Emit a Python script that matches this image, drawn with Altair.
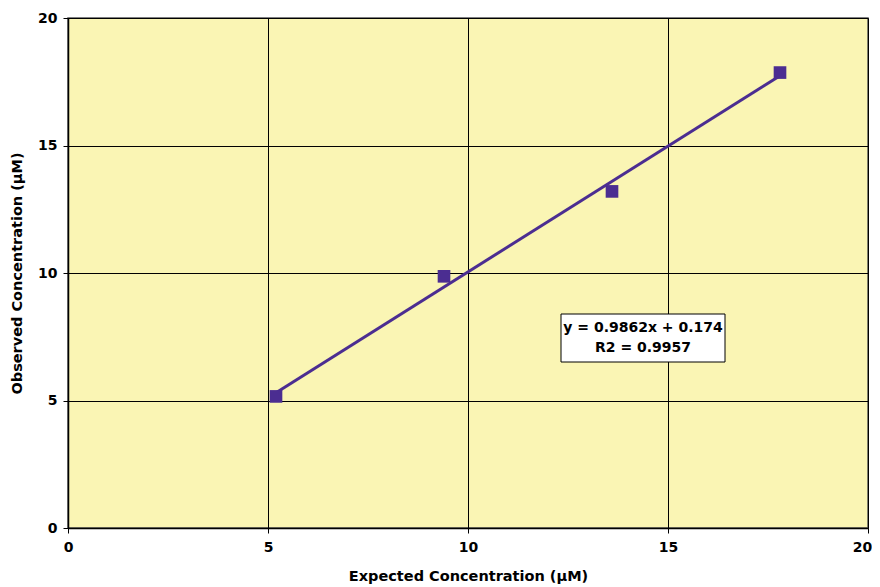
import altair as alt
import pandas as pd

expected = [5.2, 9.4, 13.6, 17.8]
observed = [5.16, 9.87, 13.2, 17.86]
eq_lines = ["y = 0.9862x + 0.174", "R2 = 0.9957"]

df = pd.DataFrame({"x": expected, "y": observed})
purple = "#4b2d91"
font = "DejaVu Sans"

xs = alt.Scale(domain=[0, 20], nice=False, zero=True)
ys = alt.Scale(domain=[0, 20], nice=False, zero=True)

common = dict(grid=True, gridColor="black", gridWidth=1, tickColor="black",
              domainColor="black", domainWidth=1.5, labelFontSize=14, labelFontWeight="bold",
              labelColor="black", titleFontSize=14.5, titleFontWeight="bold",
              titleColor="black", tickSize=5, labelFont=font, titleFont=font,
              labelFlush=False, values=[0, 5, 10, 15, 20])

x_axis = alt.Axis(title="Expected Concentration (µM)", labelPadding=7, titlePadding=15,
                  labelOffset={"condition": {"test": "datum.value == 20", "value": -6}, "value": 0},
                  **common)
y_axis = alt.Axis(title="Observed Concentration (µM)", labelPadding=6, titlePadding=13, **common)

base = alt.Chart(df)

pts = base.mark_square(size=160, color=purple, opacity=1).encode(
    x=alt.X("x:Q", scale=xs, axis=x_axis),
    y=alt.Y("y:Q", scale=ys, axis=y_axis),
)

fit = base.transform_regression("x", "y", method="linear").mark_line(
    color=purple, strokeWidth=3
).encode(x=alt.X("x:Q", scale=xs), y=alt.Y("y:Q", scale=ys))

box = alt.Chart(pd.DataFrame({"a": [0]})).mark_rect(
    fill="white", stroke="black", strokeWidth=1
).encode(x=alt.value(493), x2=alt.value(657), y=alt.value(296), y2=alt.value(344))

txt1 = alt.Chart(pd.DataFrame({"t": [eq_lines[0]]})).mark_text(
    font=font, fontSize=14, fontWeight="bold", color="black", align="center", baseline="middle"
).encode(x=alt.value(575), y=alt.value(310), text="t:N")
txt2 = alt.Chart(pd.DataFrame({"t": [eq_lines[1]]})).mark_text(
    font=font, fontSize=14, fontWeight="bold", color="black", align="center", baseline="middle"
).encode(x=alt.value(575), y=alt.value(330), text="t:N")

chart = alt.layer(fit, pts, box, txt1, txt2).properties(
    width=800, height=510,
    autosize=alt.AutoSizeParams(type="none"),
    padding={"left": 60, "top": 10, "right": 4, "bottom": 58},
).configure_view(
    fill="#faf5b4", stroke="#555555", strokeWidth=1.5
)

chart.save("out.html", embed_options={"renderer": "svg", "actions": False})
